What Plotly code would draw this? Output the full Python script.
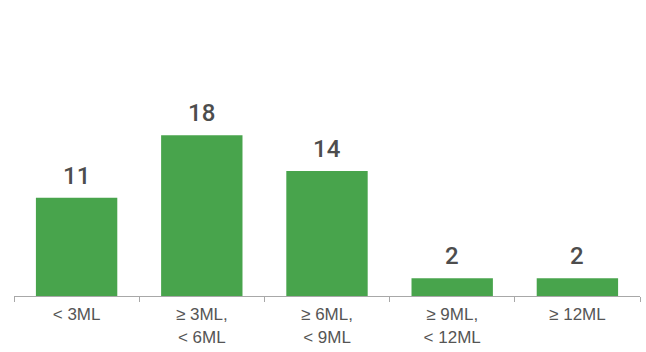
import plotly.graph_objects as go

categories = ["< 3ML", "≥ 3ML,<br>< 6ML", "≥ 6ML,<br>< 9ML", "≥ 9ML,<br>< 12ML", "≥ 12ML"]
counts = [11, 18, 14, 2, 2]

bar_color = "#48a44c"
text_color = "#555555"
value_color = "#4d4d4d"

fig = go.Figure(
    go.Bar(
        x=categories,
        y=counts,
        marker=dict(color=bar_color, line=dict(width=0)),
        width=0.65,
        hoverinfo="skip",
    )
)

# Value labels above each bar
for cat, val in zip(categories, counts):
    fig.add_annotation(
        x=cat, y=val, text=str(val), showarrow=False,
        yanchor="bottom", yshift=6,
        font=dict(family="Roboto, Liberation Sans, Arial, sans-serif", size=24,
                  weight=500, color=value_color),
    )

fig.update_layout(
    width=646, height=352,
    margin=dict(l=14, r=6, t=19, b=56),
    paper_bgcolor="white", plot_bgcolor="white",
    showlegend=False,
    bargap=0.35,
    font=dict(family="Liberation Sans, Arial, sans-serif", size=17, color=text_color),
)
fig.update_xaxes(
    type="category",
    showline=True, linecolor="#a8a8a8", linewidth=1,
    ticks="outside", tickson="boundaries", ticklen=5, tickcolor="#a8a8a8", tickwidth=1,
    showgrid=False, zeroline=False,
    tickfont=dict(size=17, color=text_color),
    ticklabelstandoff=3,
)
fig.update_yaxes(range=[0, 31], visible=False, showgrid=False, zeroline=False)

fig.write_html("out.html")
